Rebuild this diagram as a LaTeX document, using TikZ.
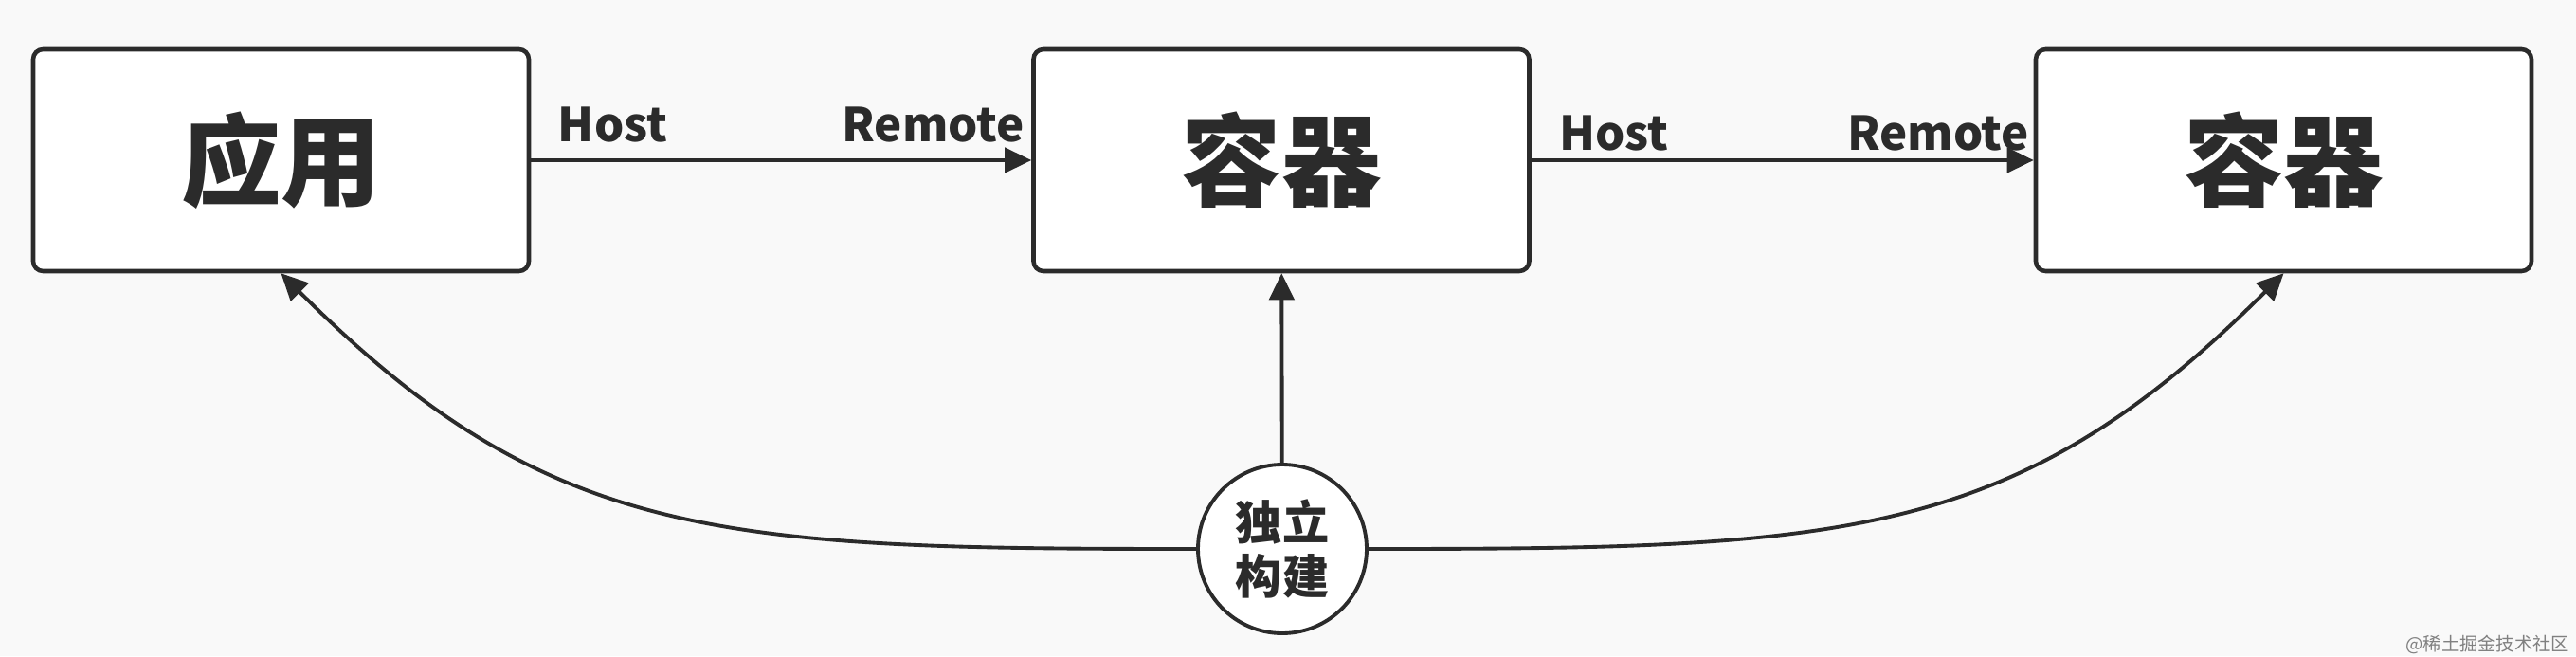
\documentclass[tikz,border=0pt]{standalone}
\usepackage{fontspec}
\setmainfont{Noto Sans CJK SC}
\usepackage{xcolor}
\usepackage{tikz}
\usetikzlibrary{arrows.meta, positioning, calc}
\definecolor{ink}{RGB}{43,43,43}
\definecolor{paper}{RGB}{249,249,249}

\begin{document}
\begin{tikzpicture}[
    box/.style={draw=ink, line width=1.3pt, rounded corners=3pt, fill=white, minimum width=5.23cm, minimum height=2.34cm, inner sep=0pt, text=ink, font=\fontsize{30}{30}\selectfont\bfseries},
    hub/.style={draw=ink, line width=1.1pt, circle, fill=white, minimum size=1.78cm, inner sep=0pt, align=center, text=ink, font=\fontsize{14}{16}\selectfont\bfseries},
    port/.style={inner sep=0pt, text=ink, font=\fontsize{14}{14}\selectfont\bfseries},
    link/.style={draw=ink, line width=1.1pt, -{Triangle[length=8pt, width=7.5pt]}}
  ]
      \fill[paper] (0,0) rectangle (27.18,6.92);

      \node[box] (app) at (2.965,5.23) {应用};
      \node[box] (ctr1) at (13.52,5.23) {容器};
      \node[box] (ctr2) at (24.095,5.23) {容器};
      \node[hub] (build) at (13.53,1.13) {独立\\构建};

      \node[port, anchor=base west] (host1) at ($(app.east)+(0.28,0.2)$) {Host};
      \node[port, anchor=base east] (remote1) at ($(ctr1.west)+(-0.07,0.2)$) {Remote};
      \node[port, anchor=base west] (host2) at ($(ctr1.east)+(0.29,0.1)$) {Host};
      \node[port, anchor=base east] (remote2) at ($(ctr2.west)+(-0.04,0.1)$) {Remote};

      \draw[link] (app) -- (ctr1);
      \draw[link] (ctr1) -- (ctr2);
      \draw[link] (build) -- (ctr1);
      \draw[link] (build.west) .. controls +(-5,0) and +(2.83,-2.83) .. (app.south);
      \draw[link] (build.east) .. controls +(5,0) and +(-2.83,-2.83) .. (ctr2.south);

      \node[anchor=base east, inner sep=0pt, text=gray, font=\fontsize{5.5}{5.5}\selectfont] (mark) at (27.12,0.06) {@稀土掘金技术社区};
    \end{tikzpicture}
\end{document}
